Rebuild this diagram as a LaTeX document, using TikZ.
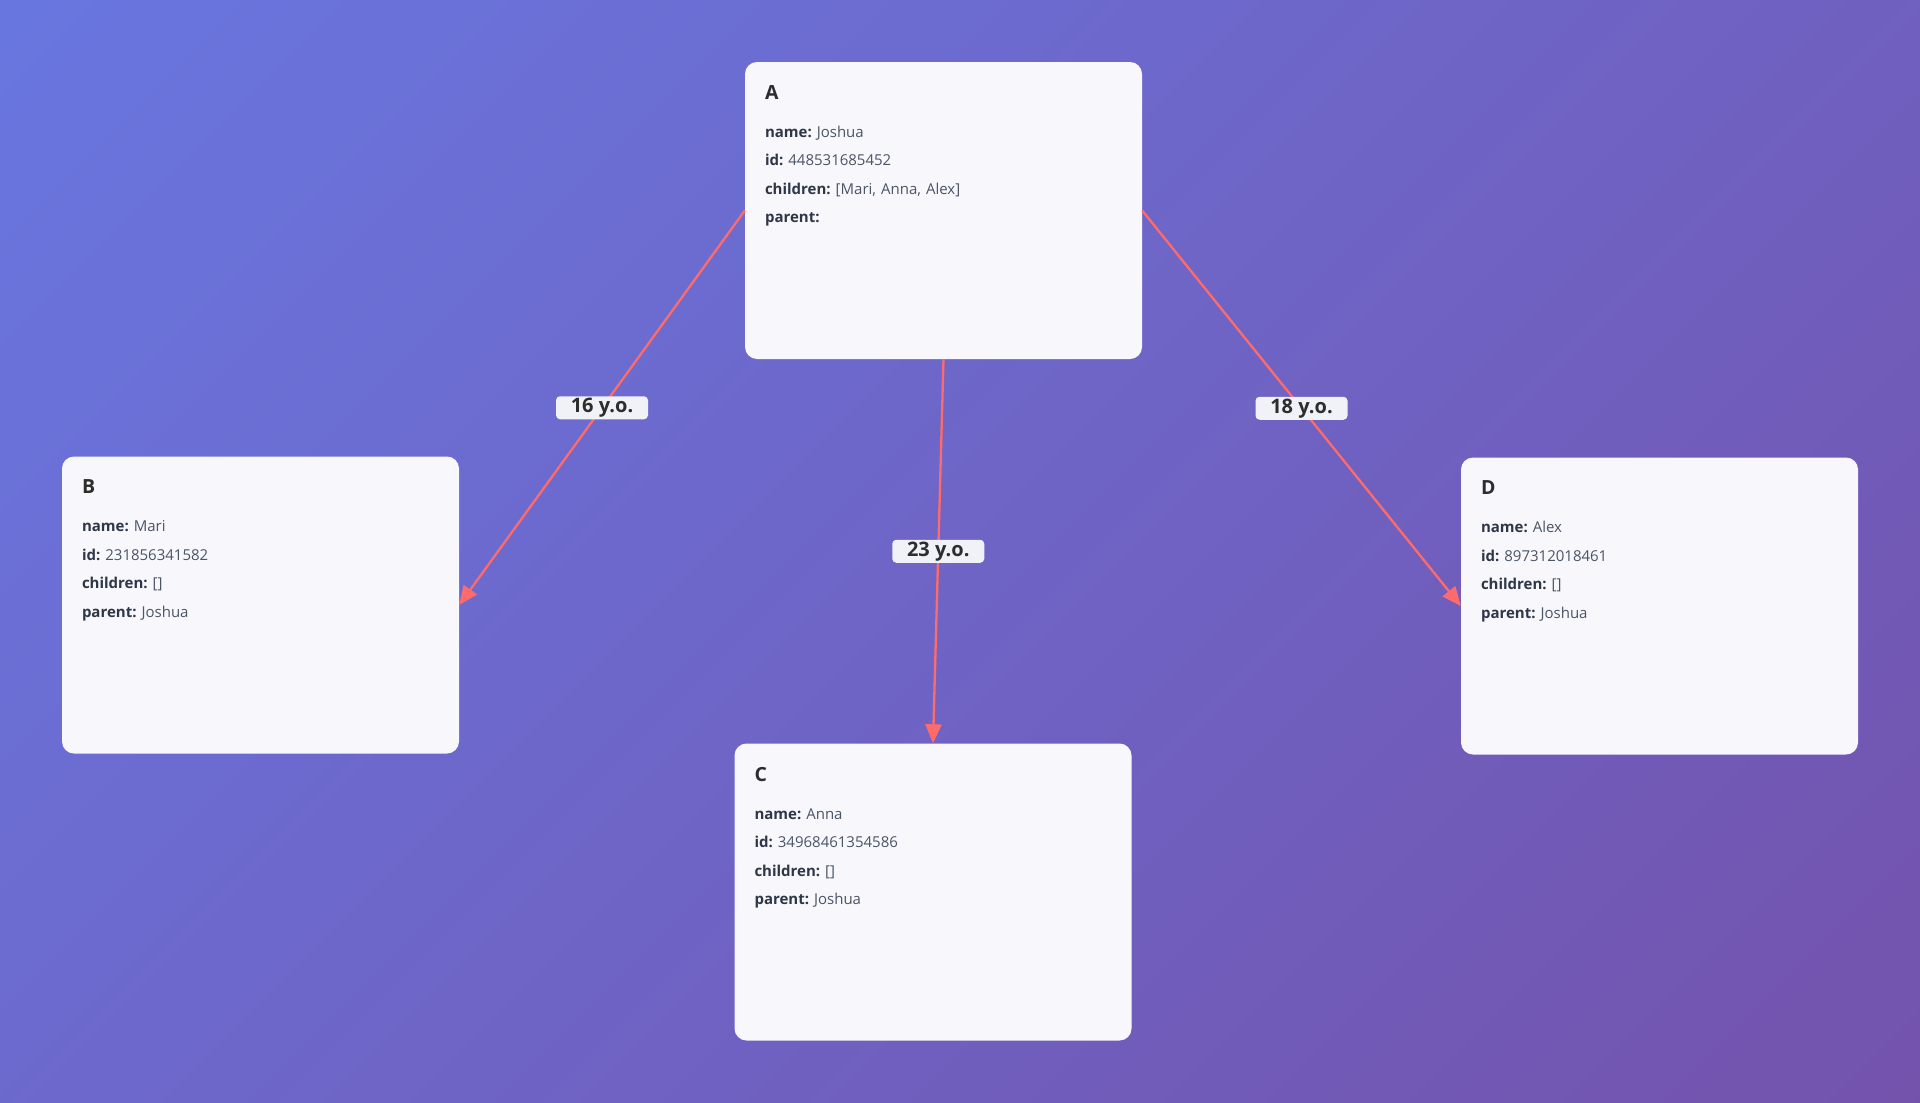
\documentclass[tikz,border=0pt]{standalone}
\usepackage{fontspec}
\setmainfont{Open Sans}
\usetikzlibrary{arrows.meta, positioning}

\definecolor{bgstart}{HTML}{667EEA}
\definecolor{bgend}{HTML}{764BA2}
\definecolor{cardfill}{HTML}{F7F7FC}
\definecolor{tagfill}{HTML}{F1F1F8}
\definecolor{linkred}{HTML}{FF6B6B}
\definecolor{keytext}{HTML}{2D3748}
\definecolor{valtext}{HTML}{4A5568}
\definecolor{titletext}{HTML}{2D2D2D}

% full-length ramp, so the corners get the end colours
\pgfdeclareverticalshading{bgfade}{100bp}{color(0bp)=(bgend); color(100bp)=(bgstart)}

\newcommand{\cardtitle}[1]{{\fontsize{19.5}{28.5}\selectfont\bfseries\color{titletext}#1}}
\newcommand{\infofield}[2]{{\bfseries\color{keytext}#1:}\ {\color{valtext}#2}}

\begin{document}
\begin{tikzpicture}[
  x=1pt, y=-1pt,
  card/.style={rectangle, fill=cardfill, rounded corners=12pt,
               minimum width=397pt, minimum height=297pt, inner sep=0pt},
  cardtext/.style={anchor=north west, inner sep=0pt, align=left,
                   text width=360pt, font=\fontsize{15}{28.5}\selectfont},
  link/.style={draw=linkred, line width=2.3pt,
               -{Triangle[length=19pt, width=16pt]}},
  agetag/.style={rectangle, fill=tagfill, rounded corners=4pt,
                 minimum width=92pt, minimum height=23pt, inner sep=0pt,
                 font=\bfseries\fontsize{20}{20}\selectfont, text=titletext}
]

% background
\shade[shading=bgfade, shading angle=45] (0,0) rectangle (1920,1103);
\useasboundingbox (0,0) rectangle (1920,1103);

% cards
\node[card] (A) at (943.5,210.5) {};
\node[card] (B) at (260.5,605) {};
\node[card] (C) at (933,892) {};
\node[card] (D) at (1659.5,606) {};

\node[cardtext] (A-info) at ([xshift=20pt, yshift=-23.5pt]A.north west) {%
  \cardtitle{A}\\[9.5pt]
  \infofield{name}{Joshua}\\
  \infofield{id}{448531685452}\\
  \infofield{children}{[Mari, Anna, Alex]}\\
  \infofield{parent}{}};
\node[cardtext] (B-info) at ([xshift=20pt, yshift=-23.5pt]B.north west) {%
  \cardtitle{B}\\[9.5pt]
  \infofield{name}{Mari}\\
  \infofield{id}{231856341582}\\
  \infofield{children}{[]}\\
  \infofield{parent}{Joshua}};
\node[cardtext] (C-info) at ([xshift=20pt, yshift=-23.5pt]C.north west) {%
  \cardtitle{C}\\[9.5pt]
  \infofield{name}{Anna}\\
  \infofield{id}{34968461354586}\\
  \infofield{children}{[]}\\
  \infofield{parent}{Joshua}};
\node[cardtext] (D-info) at ([xshift=20pt, yshift=-23.5pt]D.north west) {%
  \cardtitle{D}\\[9.5pt]
  \infofield{name}{Alex}\\
  \infofield{id}{897312018461}\\
  \infofield{children}{[]}\\
  \infofield{parent}{Joshua}};

% parent -> children
\draw[link] (A.west) -- node[agetag] {16 y.o.} (B.east);
\draw[link] (A.south) -- node[agetag] {23 y.o.} (C.north);
\draw[link] (A.east) -- node[agetag] {18 y.o.} (D.west);
\end{tikzpicture}
\end{document}
